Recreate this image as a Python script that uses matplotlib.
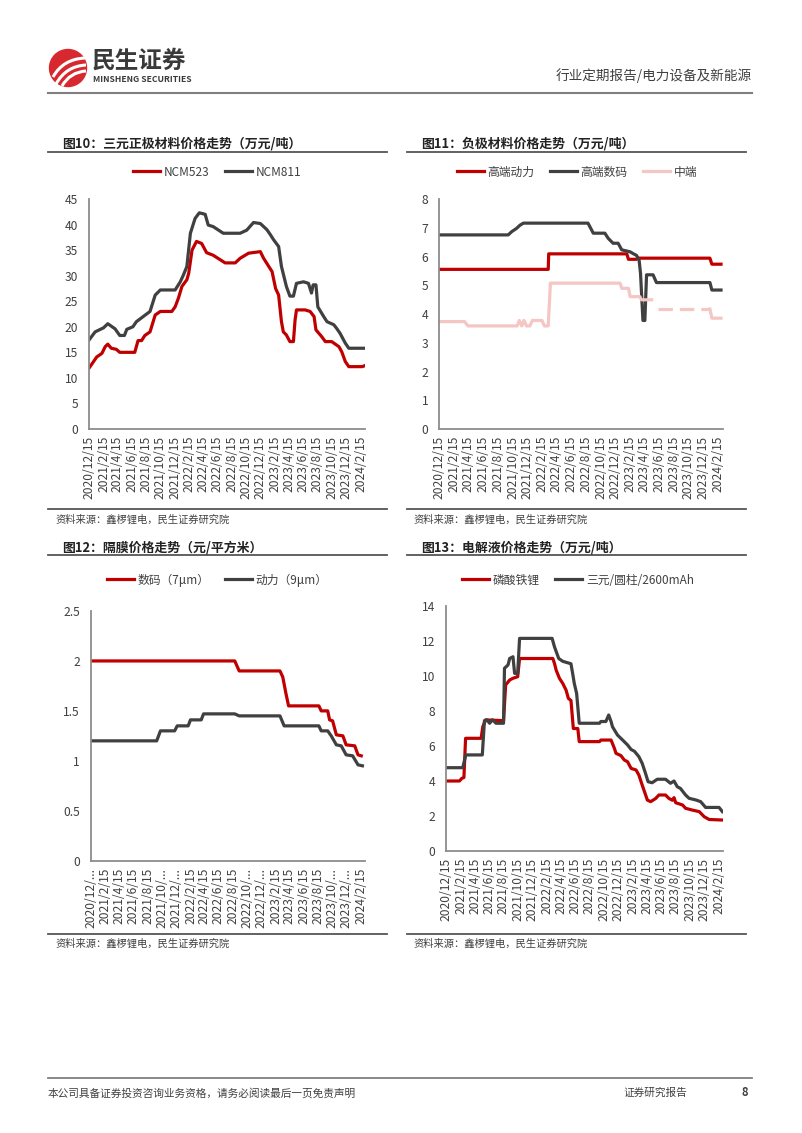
import numpy as np
import pandas as pd
import matplotlib
matplotlib.use("Agg")
import matplotlib.pyplot as plt
from matplotlib.patches import Circle, PathPatch
from matplotlib.path import Path
from matplotlib.ticker import FuncFormatter

plt.rcParams["font.family"] = ["Noto Sans CJK SC", "DejaVu Sans"]

RED = "#C00000"
DARK = "#404040"
PINK = "#F4C6C4"
AXIS = "#8C8C8C"
TXT = "#404040"

W, H = 802, 1133

# x tick labels, every two months
tick_dates = ["2020/12/15", "2021/2/15", "2021/4/15", "2021/6/15", "2021/8/15",
              "2021/10/15", "2021/12/15", "2022/2/15", "2022/4/15", "2022/6/15",
              "2022/8/15", "2022/10/15", "2022/12/15", "2023/2/15", "2023/4/15",
              "2023/6/15", "2023/8/15", "2023/10/15", "2023/12/15", "2024/2/15"]
sep_tick_labels = ["2020/12/...", "2021/2/15", "2021/4/15", "2021/6/15", "2021/8/15",
                   "2021/10/...", "2021/12/...", "2022/2/15", "2022/4/15", "2022/6/15",
                   "2022/8/15", "2022/10/...", "2022/12/...", "2023/2/15", "2023/4/15",
                   "2023/6/15", "2023/8/15", "2023/10/...", "2023/12/...", "2024/2/15"]

# 图10 三元正极 (万元/吨)
ncm523_dates = ["2020-12-15", "2021-01-17", "2021-02-08", "2021-02-22", "2021-03-05",
                "2021-03-20", "2021-04-10", "2021-04-25", "2021-06-28", "2021-07-12",
                "2021-07-27", "2021-08-10", "2021-09-01", "2021-09-23", "2021-10-15",
                "2021-12-03", "2021-12-17", "2021-12-31", "2022-01-15", "2022-02-05",
                "2022-02-13", "2022-02-27", "2022-03-18", "2022-04-09", "2022-04-30",
                "2022-05-28", "2022-07-18", "2022-08-30", "2022-09-20", "2022-10-26",
                "2022-12-15", "2022-12-29", "2023-01-20", "2023-02-03", "2023-02-18",
                "2023-03-03", "2023-03-15", "2023-03-23", "2023-04-05", "2023-04-20",
                "2023-05-05", "2023-05-12", "2023-05-18", "2023-06-24", "2023-07-15",
                "2023-08-01", "2023-08-09", "2023-09-02", "2023-09-18", "2023-10-15",
                "2023-11-15", "2023-11-27", "2023-12-12", "2023-12-27", "2024-02-22",
                "2024-03-05"]
ncm523 = [11.9, 14.1, 14.8, 16.1, 16.6,
          15.8, 15.6, 15.0, 15.0, 17.3,
          17.3, 18.3, 19.0, 22.3, 23.0,
          23.0, 23.9, 25.6, 27.9, 29.2,
          30.5, 35.0, 36.7, 36.3, 34.5,
          34.0, 32.5, 32.5, 33.4, 34.4,
          34.7, 33.4, 31.8, 30.8, 27.5,
          26.2, 21.0, 19.0, 18.4, 17.1,
          17.1, 21.3, 23.3, 23.3, 23.0,
          22.0, 19.4, 18.1, 17.1, 17.1,
          16.1, 15.1, 13.2, 12.2, 12.2,
          12.4]
ncm811_dates = ["2020-12-15", "2021-01-10", "2021-02-15", "2021-03-05", "2021-04-05",
                "2021-04-25", "2021-05-15", "2021-05-25", "2021-06-20", "2021-07-05",
                "2021-08-03", "2021-09-01", "2021-09-23", "2021-10-15", "2021-12-17",
                "2022-01-08", "2022-01-21", "2022-02-05", "2022-02-20", "2022-03-12",
                "2022-03-30", "2022-04-24", "2022-05-07", "2022-05-28", "2022-07-10",
                "2022-09-20", "2022-10-18", "2022-11-16", "2022-12-15", "2023-01-12",
                "2023-01-27", "2023-02-10", "2023-03-03", "2023-03-15", "2023-04-05",
                "2023-04-20", "2023-05-05", "2023-05-18", "2023-06-17", "2023-07-08",
                "2023-07-21", "2023-07-28", "2023-08-09", "2023-08-17", "2023-09-11",
                "2023-09-25", "2023-10-24", "2023-11-05", "2023-11-20", "2023-12-12",
                "2023-12-27", "2024-03-05"]
ncm811 = [17.4, 19.0, 19.8, 20.6, 19.6,
          18.3, 18.3, 19.5, 20.0, 21.0,
          22.0, 23.0, 26.2, 27.2, 27.2,
          28.8, 30.1, 31.8, 38.3, 41.2,
          42.3, 42.0, 39.9, 39.6, 38.3,
          38.3, 38.9, 40.4, 40.2, 39.0,
          38.0, 37.0, 35.7, 31.8, 27.9,
          26.0, 26.0, 28.5, 28.8, 28.5,
          26.6, 28.2, 28.2, 23.9, 22.0,
          21.0, 20.4, 19.7, 18.7, 16.8,
          15.8, 15.8]

# 图11 负极 (万元/吨)
power_dates = ["2020-12-15", "2022-03-12", "2022-03-14", "2023-02-01", "2023-02-08",
               "2023-03-13", "2023-03-20", "2024-01-12", "2024-01-20", "2024-02-27"]
power_hi = [5.56, 5.56, 6.10, 6.10, 5.91,
            5.91, 5.95, 5.95, 5.74, 5.74]
digital_dates = ["2020-12-15", "2021-09-27", "2021-10-11", "2021-11-01", "2021-11-15",
                 "2021-11-29", "2022-08-24", "2022-09-15", "2022-11-02", "2022-11-16",
                 "2022-12-06", "2022-12-27", "2023-01-11", "2023-02-15", "2023-03-01",
                 "2023-03-13", "2023-03-24", "2023-03-30", "2023-04-09", "2023-04-17",
                 "2023-04-24", "2023-05-21", "2023-06-04", "2024-01-12", "2024-01-20",
                 "2024-02-27"]
digital_hi = [6.76, 6.76, 6.87, 6.99, 7.10,
              7.17, 7.17, 6.82, 6.82, 6.64,
              6.47, 6.47, 6.24, 6.17, 6.10,
              6.05, 5.89, 5.42, 3.78, 3.78,
              5.37, 5.37, 5.10, 5.10, 4.84,
              4.84]
mid_dates = ["2020-12-15", "2021-03-30", "2021-04-13", "2021-11-03", "2021-11-12",
             "2021-11-22", "2021-12-01", "2021-12-12", "2021-12-26", "2022-01-05",
             "2022-02-14", "2022-02-24", "2022-03-12", "2022-03-21", "2023-01-04",
             "2023-01-11", "2023-02-08", "2023-02-15", "2023-03-27", "2023-04-03",
             "2023-05-15", "2023-05-28", "2024-01-12", "2024-01-20", "2024-02-27"]
mid_vals = [3.74, 3.74, 3.59, 3.59, 3.78,
            3.59, 3.78, 3.59, 3.59, 3.78,
            3.78, 3.59, 3.59, 5.08, 5.08,
            4.90, 4.90, 4.61, 4.61, 4.50,
            4.50, np.nan, 4.18, 3.86, 3.86]
mid_dash_dates = ["2023-06-10", "2024-01-12"]
mid_dash_vals = [4.18, 4.18]

# 图12 隔膜 (元/平方米)
sep7_dates = ["2020-12-15", "2022-08-24", "2022-09-12", "2023-03-06", "2023-03-18",
              "2023-04-01", "2023-04-12", "2023-08-20", "2023-08-30", "2023-09-27",
              "2023-10-05", "2023-10-18", "2023-11-03", "2023-12-01", "2023-12-15",
              "2024-01-21", "2024-02-04", "2024-02-18"]
sep7 = [2.00, 2.00, 1.90, 1.90, 1.84,
        1.67, 1.55, 1.55, 1.50, 1.50,
        1.41, 1.40, 1.26, 1.25, 1.16,
        1.15, 1.06, 1.05]
sep9_dates = ["2020-12-15", "2021-09-23", "2021-10-09", "2021-12-09", "2021-12-20",
              "2022-02-05", "2022-02-15", "2022-04-02", "2022-04-12", "2022-08-24",
              "2022-09-12", "2023-03-06", "2023-03-24", "2023-08-20", "2023-08-30",
              "2023-09-27", "2023-10-12", "2023-11-03", "2023-11-24", "2023-12-15",
              "2024-01-12", "2024-02-04", "2024-02-23"]
sep9 = [1.20, 1.20, 1.30, 1.30, 1.35,
        1.35, 1.41, 1.41, 1.47, 1.47,
        1.45, 1.45, 1.35, 1.35, 1.30,
        1.30, 1.25, 1.16, 1.15, 1.06,
        1.05, 0.96, 0.95]

# 图13 电解液 (万元/吨)
lfp_dates = ["2020-12-15", "2021-02-10", "2021-02-20", "2021-03-01", "2021-03-08",
             "2021-05-13", "2021-05-20", "2021-06-01", "2021-08-16", "2021-08-25",
             "2021-09-11", "2021-09-25", "2021-10-15", "2021-10-23", "2022-03-13",
             "2022-03-20", "2022-03-27", "2022-04-10", "2022-04-24", "2022-05-08",
             "2022-05-18", "2022-05-29", "2022-06-08", "2022-06-27", "2022-07-03",
             "2022-09-27", "2022-10-03", "2022-11-15", "2022-11-29", "2022-12-06",
             "2022-12-27", "2023-01-10", "2023-01-24", "2023-02-08", "2023-03-01",
             "2023-03-13", "2023-03-27", "2023-04-18", "2023-05-02", "2023-05-23",
             "2023-06-06", "2023-07-04", "2023-07-18", "2023-08-02", "2023-08-09",
             "2023-08-16", "2023-09-14", "2023-09-27", "2023-10-25", "2023-11-24",
             "2023-12-15", "2024-01-05", "2024-03-01"]
lfp = [4.00, 4.00, 4.15, 4.20, 6.44,
       6.44, 7.10, 7.49, 7.45, 9.49,
       9.77, 9.87, 9.96, 11.0, 11.0,
       10.72, 10.34, 9.87, 9.58, 9.20,
       8.72, 8.60, 7.00, 7.00, 6.25,
       6.25, 6.34, 6.34, 5.87, 5.58,
       5.45, 5.20, 5.10, 4.72, 4.63,
       4.34, 3.77, 2.91, 2.82, 3.00,
       3.20, 3.20, 3.01, 2.90, 3.05,
       2.76, 2.63, 2.44, 2.34, 2.25,
       1.96, 1.80, 1.77]
ncm_cyl_dates = ["2020-12-15", "2021-02-24", "2021-03-09", "2021-05-18", "2021-05-27",
                 "2021-06-06", "2021-06-18", "2021-06-30", "2021-07-15", "2021-08-16",
                 "2021-08-20", "2021-09-04", "2021-09-11", "2021-09-25", "2021-10-02",
                 "2021-10-15", "2021-10-23", "2022-03-10", "2022-03-20", "2022-04-07",
                 "2022-04-24", "2022-05-29", "2022-06-05", "2022-06-12", "2022-06-22",
                 "2022-07-03", "2022-09-27", "2022-10-03", "2022-10-24", "2022-11-05",
                 "2022-11-15", "2022-11-21", "2022-12-12", "2023-01-03", "2023-01-24",
                 "2023-02-08", "2023-02-22", "2023-03-13", "2023-03-27", "2023-04-10",
                 "2023-04-21", "2023-05-08", "2023-05-30", "2023-07-04", "2023-07-25",
                 "2023-08-09", "2023-08-23", "2023-09-05", "2023-09-27", "2023-10-12",
                 "2023-11-09", "2023-11-30", "2023-12-21", "2024-02-16", "2024-03-01"]
ncm_cyl = [4.76, 4.76, 5.49, 5.49, 7.45,
           7.50, 7.30, 7.50, 7.30, 7.30,
           10.44, 10.63, 11.0, 11.1, 10.15,
           10.15, 12.15, 12.15, 11.67, 11.0,
           10.84, 10.70, 10.15, 9.58, 9.00,
           7.30, 7.30, 7.40, 7.40, 7.77,
           7.40, 7.10, 6.63, 6.34, 6.06,
           5.80, 5.70, 5.39, 5.01, 4.44,
           3.96, 3.90, 4.10, 4.10, 3.87,
           4.00, 3.67, 3.58, 3.20, 3.01,
           2.92, 2.82, 2.49, 2.49, 2.25]


def d(lst):
    return pd.to_datetime(lst)


def style_axes(ax, ymax, ystep, labels):
    ax.set_xlim(pd.Timestamp("2020-12-15"), pd.Timestamp("2024-03-05"))
    ax.set_ylim(0, ymax)
    ax.set_yticks(np.arange(0, ymax + ystep / 2, ystep))
    ax.yaxis.set_major_formatter(FuncFormatter(lambda v, p: f"{v:g}"))
    ax.set_xticks(pd.to_datetime(tick_dates, format="%Y/%m/%d"))
    ax.set_xticklabels(labels, rotation=90)
    for s in ["top", "right"]:
        ax.spines[s].set_visible(False)
    for s in ["left", "bottom"]:
        ax.spines[s].set_color(AXIS)
        ax.spines[s].set_linewidth(1.3)
    ax.tick_params(axis="both", length=0, labelsize=8.7, colors=TXT)
    ax.tick_params(axis="y", pad=8)
    ax.tick_params(axis="x", pad=5)
    ax.patch.set_alpha(0)


def add_legend(ax, cx, cy, ncol):
    ax.legend(loc="center", bbox_to_anchor=(cx / W, 1 - cy / H),
              bbox_transform=fig.transFigure, ncol=ncol, frameon=False,
              fontsize=8.5, handlelength=2.3, handletextpad=0.3,
              columnspacing=1.3, labelcolor=TXT)


fig = plt.figure(figsize=(8.02, 11.33), dpi=100)

# page decorations in pixel coords
bg = fig.add_axes([0, 0, 1, 1])
bg.set_xlim(0, W)
bg.set_ylim(H, 0)
bg.axis("off")

# logo
bg.add_patch(Circle((68, 68), 18.5, color="#D7282F"))
for (x0, y0), (xc, yc), (x1, y1) in [((53, 77), (63, 59), (85, 58)),
                                      ((56, 84), (66, 66), (86, 65)),
                                      ((62, 86), (70, 72), (86, 71))]:
    p = Path([(x0, y0), (xc, yc), (x1, y1)], [Path.MOVETO, Path.CURVE3, Path.CURVE3])
    bg.add_patch(PathPatch(p, fc="none", ec="white", lw=2.2))
bg.text(92, 61, "民生证券", fontsize=17, fontweight="bold", color="#3A3A3A", va="center")
bg.text(93, 80, "MINSHENG SECURITIES", fontsize=6.2, fontweight="bold", color="#3A3A3A",
        va="center")
bg.text(752, 76, "行业定期报告/电力设备及新能源", fontsize=9.8, color=TXT, ha="right", va="center")
bg.plot([48, 752], [93, 93], color="#7F7F7F", lw=1.5)

# section titles and rules
titles = [(62, 143, "图10：三元正极材料价格走势（万元/吨）"),
          (421, 143, "图11：负极材料价格走势（万元/吨）"),
          (62, 547, "图12：隔膜价格走势（元/平方米）"),
          (421, 547, "图13：电解液价格走势（万元/吨）")]
for x, y, t in titles:
    bg.text(x, y, t, fontsize=9.3, fontweight="bold", color="#222222", va="center")
for x0, x1, y in [(48, 387, 151.5), (407, 746, 151.5), (48, 387, 555), (407, 746, 555),
                  (48, 387, 509), (407, 746, 509), (48, 387, 934), (407, 746, 934)]:
    bg.plot([x0, x1], [y, y], color="#555555", lw=1.3)
for x, y in [(55, 520), (414, 520), (55, 944), (414, 944)]:
    bg.text(x, y, "资料来源：鑫椤锂电，民生证券研究院", fontsize=7.4, color=TXT, va="center")

# footer
bg.plot([48, 752], [1078, 1078], color="#7F7F7F", lw=1.3)
bg.text(48, 1093, "本公司具备证券投资咨询业务资格，请务必阅读最后一页免责声明",
        fontsize=7.7, color=TXT, va="center")
bg.text(624, 1093, "证券研究报告", fontsize=7.7, color=TXT, va="center")
bg.text(742, 1093, "8", fontsize=8, fontweight="bold", color=TXT, va="center")

LW = 2.3

# 图10
ax1 = fig.add_axes([89 / W, 1 - 429 / H, 276 / W, 230 / H])
ax1.plot(d(ncm523_dates), ncm523, color=RED, lw=LW, label="NCM523")
ax1.plot(d(ncm811_dates), ncm811, color=DARK, lw=LW, label="NCM811")
style_axes(ax1, 45, 5, tick_dates)
add_legend(ax1, 217, 172, 2)

# 图11
ax2 = fig.add_axes([439.3 / W, 1 - 429 / H, 283.4 / W, 229.7 / H])
ax2.plot(d(power_dates), power_hi, color=RED, lw=LW, label="高端动力")
ax2.plot(d(digital_dates), digital_hi, color=DARK, lw=LW, label="高端数码")
ax2.plot(d(mid_dates), mid_vals, color=PINK, lw=LW, label="中端")
ax2.plot(d(mid_dash_dates), mid_dash_vals, color=PINK, lw=LW, linestyle=(0, (4.5, 2.2)))
style_axes(ax2, 8, 1, tick_dates)
add_legend(ax2, 577, 172, 3)

# 图12
ax3 = fig.add_axes([91 / W, 1 - 860.7 / H, 274 / W, 249.7 / H])
ax3.plot(d(sep7_dates), sep7, color=RED, lw=LW, label="数码（7μm）")
ax3.plot(d(sep9_dates), sep9, color=DARK, lw=LW, label="动力（9μm）")
style_axes(ax3, 2.5, 0.5, sep_tick_labels)
add_legend(ax3, 217, 580, 2)

# 图13
ax4 = fig.add_axes([446 / W, 1 - 851 / H, 277.3 / W, 245 / H])
ax4.plot(d(lfp_dates), lfp, color=RED, lw=LW, label="磷酸铁锂")
ax4.plot(d(ncm_cyl_dates), ncm_cyl, color=DARK, lw=LW, label="三元/圆柱/2600mAh")
style_axes(ax4, 14, 2, tick_dates)
add_legend(ax4, 578, 580, 2)

fig.savefig("out.png", dpi=100)
